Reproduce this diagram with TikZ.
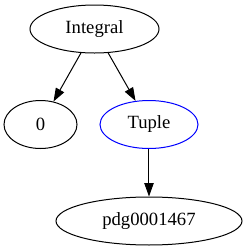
\documentclass[tikz,border=0pt]{standalone}
\usepackage{fontspec}
\setmainfont{Liberation Serif}
\usetikzlibrary{arrows.meta,shapes.geometric}
\definecolor{TupleBlue}{HTML}{0000FF}

\begin{document}
\begin{tikzpicture}[x=0.75pt,y=-0.75pt,>={Triangle[length=10pt,width=7pt]},
  treenode/.style={draw,ellipse,inner sep=0pt,minimum height=36pt,
    line width=0.75pt,font=\fontsize{14}{16}\selectfont},
  treeedge/.style={->,line width=0.75pt}]
  \useasboundingbox (0,0) rectangle (247,251);
  \node[treenode,minimum width=96.75pt] (integral) at (94.5,29) {Integral};
  \node[treenode,minimum width=54.75pt] (zero) at (40.5,124.5) {0};
  \node[treenode,draw=TupleBlue,minimum width=73.5pt] (tuple) at (149,124.5) {Tuple};
  \node[treenode,minimum width=139.5pt] (pdg) at (149,221) {pdg0001467};
  \draw[treeedge] (integral)--(zero);
  \draw[treeedge] (integral)--(tuple);
  \draw[treeedge] (tuple)--(pdg);
\end{tikzpicture}
\end{document}
